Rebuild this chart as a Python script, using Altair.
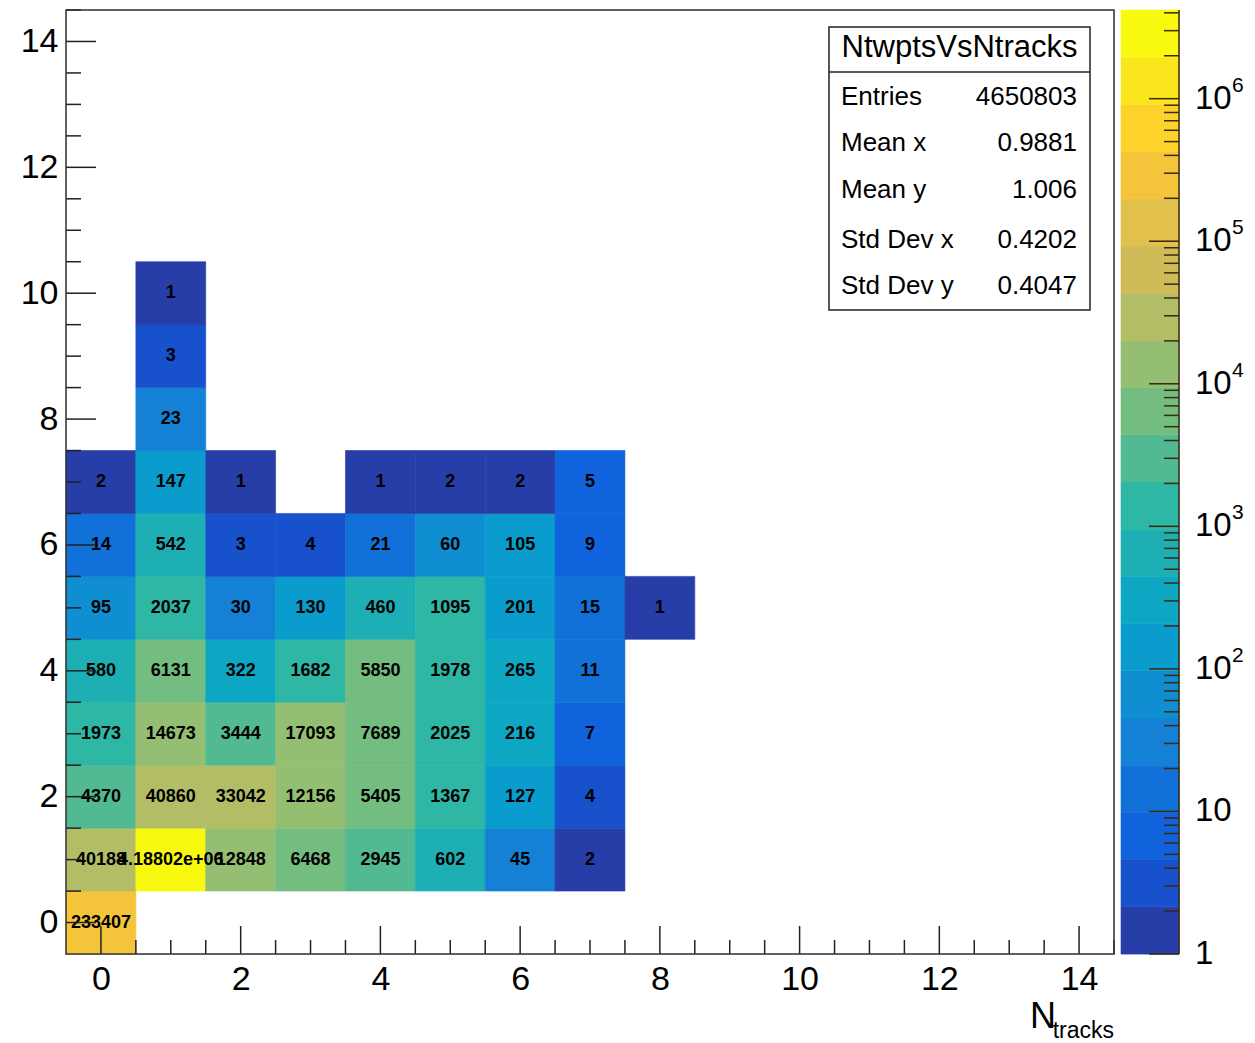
import math
import altair as alt
import numpy as np
import pandas as pd

# ---------------- data ----------------
# counts per row (y = number of tw points), index in list = N_tracks bin; None = empty
row0 = [233407]
row1 = [40188, 4188020, 12848, 6468, 2945, 602, 45, 2]
row2 = [4370, 40860, 33042, 12156, 5405, 1367, 127, 4]
row3 = [1973, 14673, 3444, 17093, 7689, 2025, 216, 7]
row4 = [580, 6131, 322, 1682, 5850, 1978, 265, 11]
row5 = [95, 2037, 30, 130, 460, 1095, 201, 15, 1]
row6 = [14, 542, 3, 4, 21, 60, 105, 9]
row7 = [2, 147, 1, None, 1, 2, 2, 5]
row8 = [None, 23]
row9 = [None, 3]
row10 = [None, 1]
rows = [row0, row1, row2, row3, row4, row5, row6, row7, row8, row9, row10]

axis_ticks = [0, 2, 4, 6, 8, 10, 12, 14]
stats_title = "NtwptsVsNtracks"
stats_labels = ["Entries", "Mean x", "Mean y", "Std Dev x", "Std Dev y"]
stats_values = ["4650803", "0.9881", "1.006", "0.4202", "0.4047"]
cbar_decades = [1, 10, 100, 1000, 10000, 100000, 1000000]
cbar_base = ["1", "10", "10", "10", "10", "10", "10"]
cbar_exp = ["", "", "2", "3", "4", "5", "6"]

# ---------------- style ----------------
FONT = "Liberation Sans"
W, H = 1048, 944
CB_W = 58
NCONT = 20

# ROOT kBird palette
bird_stops = [0.0, 0.125, 0.25, 0.375, 0.5, 0.625, 0.75, 0.875, 1.0]
bird_r = [0.2082, 0.0592, 0.0780, 0.0232, 0.1802, 0.5301, 0.8186, 0.9956, 0.9764]
bird_g = [0.1664, 0.3599, 0.5041, 0.6419, 0.7178, 0.7492, 0.7328, 0.7862, 0.9832]
bird_b = [0.5293, 0.8684, 0.8385, 0.7914, 0.6425, 0.4662, 0.3499, 0.1968, 0.0539]


def bird(f):
    r = np.interp(f, bird_stops, bird_r)
    g = np.interp(f, bird_stops, bird_g)
    b = np.interp(f, bird_stops, bird_b)
    return "#%02x%02x%02x" % (int(round(r * 255)), int(round(g * 255)), int(round(b * 255)))


palette = [bird(int((i + 0.99) * 255 / NCONT) / 255.0) for i in range(NCONT)]

# ---------------- tables ----------------
recs = []
for yy, row in enumerate(rows):
    for xx, v in enumerate(row):
        if v is None:
            continue
        recs.append(dict(x=xx, y=yy, x0=xx - 0.5, x1=xx + 0.5, y0=yy - 0.5, y1=yy + 0.5,
                         count=v, logc=math.log10(v), label=f"{v:g}"))
cells = pd.DataFrame(recs)

zmax = float(cells["count"].max())
zlog = math.log10(zmax)

color_scale = alt.Scale(type="quantize", domain=[0, zlog], range=palette, nice=False)

xs = alt.Scale(domain=[-0.5, 14.5], nice=False, zero=False)
ys = alt.Scale(domain=[-0.5, 14.5], nice=False, zero=False)
xa = alt.Axis(values=axis_ticks, ticks=False, domain=False, grid=False, title=None,
              labelFont=FONT, labelFontSize=34, labelColor="black", labelPadding=8,
              labelFlush=False, labelOverlap=False)
ya = alt.Axis(values=axis_ticks, ticks=False, domain=False, grid=False, title=None,
              labelFont=FONT, labelFontSize=34, labelColor="black", labelPadding=8,
              labelFlush=False, labelOverlap=False, minExtent=57, maxExtent=57)

base = alt.Chart(cells)
rects = base.mark_rect(strokeWidth=0.6).encode(
    x=alt.X("x0:Q", scale=xs, axis=xa),
    x2="x1:Q",
    y=alt.Y("y0:Q", scale=ys, axis=ya),
    y2="y1:Q",
    fill=alt.Fill("logc:Q", scale=color_scale, legend=None),
    stroke=alt.Stroke("logc:Q", scale=color_scale, legend=None),
)
texts = base.mark_text(font=FONT, fontSize=18, fontWeight="bold", color="black",
                       baseline="middle", align="center").encode(
    x=alt.X("x:Q", scale=xs, axis=xa),
    y=alt.Y("y:Q", scale=ys, axis=ya),
    text="label:N",
)

tick_pos = [i * 0.5 for i in range(0, 30)]
major_df = pd.DataFrame({"t": [t for t in tick_pos if t % 2 == 0]})
minor_df = pd.DataFrame({"t": [t for t in tick_pos if t % 2 != 0]})

xmaj = alt.Chart(major_df).mark_rule(color="#222222", strokeWidth=1.5).encode(
    x=alt.X("t:Q", scale=xs, axis=xa), y=alt.value(H), y2=alt.value(H - 28))
xmin = alt.Chart(minor_df).mark_rule(color="#222222", strokeWidth=1.5).encode(
    x=alt.X("t:Q", scale=xs, axis=xa), y=alt.value(H), y2=alt.value(H - 14))
ymaj = alt.Chart(major_df).mark_rule(color="#222222", strokeWidth=1.5).encode(
    y=alt.Y("t:Q", scale=ys, axis=ya), x=alt.value(0), x2=alt.value(30))
ymin = alt.Chart(minor_df).mark_rule(color="#222222", strokeWidth=1.5).encode(
    y=alt.Y("t:Q", scale=ys, axis=ya), x=alt.value(0), x2=alt.value(15))

one = alt.Data(values=[{"a": 1}])
frame = alt.Chart(one).mark_rect(fillOpacity=0, stroke="#333333", strokeWidth=1.5).encode(
    x=alt.value(0), x2=alt.value(W), y=alt.value(0), y2=alt.value(H))

# stats box
SB_X0, SB_X1, SB_Y0, SB_Y1 = 763, 1024, 17, 300
sbox = alt.Chart(one).mark_rect(fill="white", stroke="#222222", strokeWidth=1.5).encode(
    x=alt.value(SB_X0), x2=alt.value(SB_X1), y=alt.value(SB_Y0), y2=alt.value(SB_Y1))
sdiv = alt.Chart(one).mark_rule(color="#222222", strokeWidth=1.5).encode(
    x=alt.value(SB_X0), x2=alt.value(SB_X1), y=alt.value(62))
stitle = alt.Chart(one).mark_text(font=FONT, fontSize=31, color="black", align="center",
                                  baseline="middle", text=stats_title).encode(
    x=alt.value((SB_X0 + SB_X1) / 2), y=alt.value(38))
row_y = [87, 133, 180, 230, 276]
stat_df = pd.DataFrame({"lab": stats_labels, "val": stats_values, "py": row_y})
slabels = alt.Chart(stat_df).mark_text(font=FONT, fontSize=26, color="black", align="left",
                                       baseline="middle").encode(
    x=alt.value(SB_X0 + 12), y=alt.Y("py:Q", scale=None), text="lab:N")
svalues = alt.Chart(stat_df).mark_text(font=FONT, fontSize=26, color="black", align="right",
                                       baseline="middle").encode(
    x=alt.value(SB_X1 - 13), y=alt.Y("py:Q", scale=None), text="val:N")

# x-axis title N_tracks
xt_n = alt.Chart(one).mark_text(font=FONT, fontSize=36, color="black", align="right",
                                baseline="alphabetic", text="N").encode(
    x=alt.value(990), y=alt.value(H + 74))
xt_s = alt.Chart(one).mark_text(font=FONT, fontSize=23, color="black", align="right",
                                baseline="alphabetic", text="tracks").encode(
    x=alt.value(W), y=alt.value(H + 84))

main = alt.layer(rects, texts, xmaj, xmin, ymaj, ymin, frame,
                 sbox, sdiv, stitle, slabels, svalues, xt_n, xt_s).properties(width=W, height=H)

# ---------------- colour bar ----------------
band_df = pd.DataFrame({
    "lo": [10 ** (k * zlog / NCONT) for k in range(NCONT)],
    "hi": [10 ** ((k + 1) * zlog / NCONT) for k in range(NCONT)],
    "logc": [(k + 0.5) * zlog / NCONT for k in range(NCONT)],
})
cys = alt.Scale(type="log", domain=[1, zmax], nice=False)
bands = alt.Chart(band_df).mark_rect(strokeWidth=0.6).encode(
    x=alt.value(0), x2=alt.value(CB_W),
    y=alt.Y("lo:Q", scale=cys, axis=None), y2="hi:Q",
    fill=alt.Fill("logc:Q", scale=color_scale, legend=None),
    stroke=alt.Stroke("logc:Q", scale=color_scale, legend=None),
)
minor_vals = [m * d for d in cbar_decades for m in range(2, 10) if m * d <= zmax]
cb_major = alt.Chart(pd.DataFrame({"v": cbar_decades})).mark_rule(
    color="#3a2a10", strokeWidth=1.5).encode(
    y=alt.Y("v:Q", scale=cys, axis=None), x=alt.value(CB_W - 30), x2=alt.value(CB_W))
cb_minor = alt.Chart(pd.DataFrame({"v": minor_vals})).mark_rule(
    color="#3a2a10", strokeWidth=1.5).encode(
    y=alt.Y("v:Q", scale=cys, axis=None), x=alt.value(CB_W - 15), x2=alt.value(CB_W))
cb_edge = alt.Chart(one).mark_rule(color="#3a2a10", strokeWidth=1.5).encode(
    x=alt.value(CB_W), y=alt.value(0), y2=alt.value(H))
lab_df = pd.DataFrame({"v": cbar_decades, "b": cbar_base, "e": cbar_exp})
cb_lab = alt.Chart(lab_df).mark_text(font=FONT, fontSize=33, color="black", align="left",
                                     baseline="middle").encode(
    y=alt.Y("v:Q", scale=cys, axis=None), x=alt.value(CB_W + 16), text="b:N")
cb_exp = alt.Chart(lab_df).mark_text(font=FONT, fontSize=21, color="black", align="left",
                                     baseline="middle", dy=-13).encode(
    y=alt.Y("v:Q", scale=cys, axis=None), x=alt.value(CB_W + 53), text="e:N")

cbar = alt.layer(bands, cb_minor, cb_major, cb_edge, cb_lab, cb_exp).properties(width=CB_W, height=H)

chart = alt.hconcat(main, cbar, spacing=7, bounds="flush").properties(
    padding={"left": 0, "top": 0, "right": 0, "bottom": 0}
).configure_view(stroke=None).configure(background="white")

chart.save("out.html", embed_options={"renderer": "svg", "actions": False})
